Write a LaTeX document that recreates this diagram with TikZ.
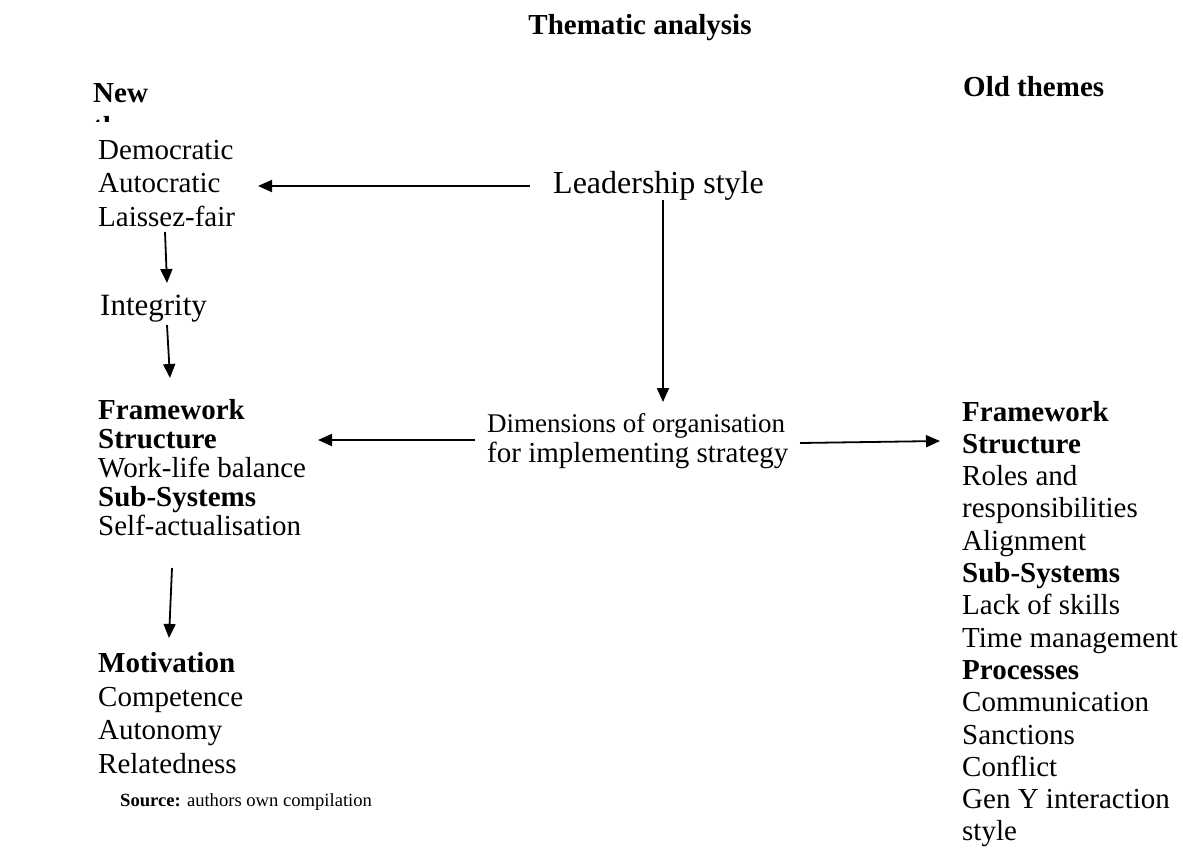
\documentclass[tikz,border=0pt]{standalone}
\usepackage{fontspec}
\setmainfont{Liberation Serif}
\usetikzlibrary{arrows.meta}
\tikzset{
  txt/.style={anchor=base west, inner sep=0pt, font=\fontsize{29}{34}\selectfont},
  conn/.style={line width=1.8pt, -{Triangle[length=14pt,width=12pt]}},
}
\begin{document}
\begin{tikzpicture}[x=1pt,y=-1pt]
\useasboundingbox (0,0) rectangle (1183,864);
% title and headings
\node[txt, anchor=base] (title) at (640,35) {\textbf{Thematic analysis}};
\node[txt] (new) at (93,103) {\textbf{New}};
\begin{scope}
  \clip (88,110) rectangle (200,122);
  \node[txt, text depth=0pt, text height=8pt] (newth) at (93,136) {\textbf{themes}};
\end{scope}
\node[txt] (old) at (963,97) {\textbf{Old themes}};
% left top block
\node[txt] (dem) at (98,159) {Democratic};
\node[txt] (aut) at (98,192) {Autocratic};
\node[txt] (lai) at (98,226) {Laissez-fair};
\node[txt, font=\fontsize{31}{36}\selectfont] (integ) at (100,315) {Integrity};
% leadership
\node[txt, font=\fontsize{32}{38}\selectfont] (lead) at (553,193) {Leadership style};
% dimensions
\node[txt, font=\fontsize{27}{32}\selectfont] (dim1) at (487,432) {Dimensions of organisation};
\node[txt] (dim2) at (487,462) {for implementing strategy};
% left framework block
\node[txt] (lf1) at (98,419) {\textbf{Framework}};
\node[txt] (lf2) at (98,448) {\textbf{Structure}};
\node[txt] (lf3) at (98,477) {Work-life balance};
\node[txt] (lf4) at (98,506) {\textbf{Sub-Systems}};
\node[txt] (lf5) at (98,535) {Self-actualisation};
% motivation block
\node[txt] (mo1) at (98,672) {\textbf{Motivation}};
\node[txt] (mo2) at (98,706) {Competence};
\node[txt] (mo3) at (98,739) {Autonomy};
\node[txt] (mo4) at (98,773) {Relatedness};
% right column
\foreach \t [count=\i from 0] in {\textbf{Framework},\textbf{Structure},Roles and,responsibilities,Alignment,\textbf{Sub-Systems},Lack of skills,Time management,\textbf{Processes},Communication,Sanctions,Conflict,Gen Y interaction,style}
  \node[txt] (r\i) at (962,{421+32.3*\i}) {\t};
% source
\node[txt, font=\fontsize{18.6}{22}\selectfont] (src) at (120,806) {\textbf{Source:} authors own compilation};
% connector end points
\coordinate (a1s) at (530,186); \coordinate (a1e) at (258,186);
\coordinate (a2s) at (663,200); \coordinate (a2e) at (663,402);
\coordinate (a3s) at (165,232); \coordinate (a3e) at (167,283);
\coordinate (a4s) at (167,325); \coordinate (a4e) at (170,378);
\coordinate (a5s) at (475,440); \coordinate (a5e) at (318,440);
\coordinate (a6s) at (800,443); \coordinate (a6e) at (940,441);
\coordinate (a7s) at (172,568); \coordinate (a7e) at (169,638);
\draw[conn] (a1s) -- (a1e);
\draw[conn] (a2s) -- (a2e);
\draw[conn] (a3s) -- (a3e);
\draw[conn] (a4s) -- (a4e);
\draw[conn] (a5s) -- (a5e);
\draw[conn] (a6s) -- (a6e);
\draw[conn] (a7s) -- (a7e);
\end{tikzpicture}
\end{document}
